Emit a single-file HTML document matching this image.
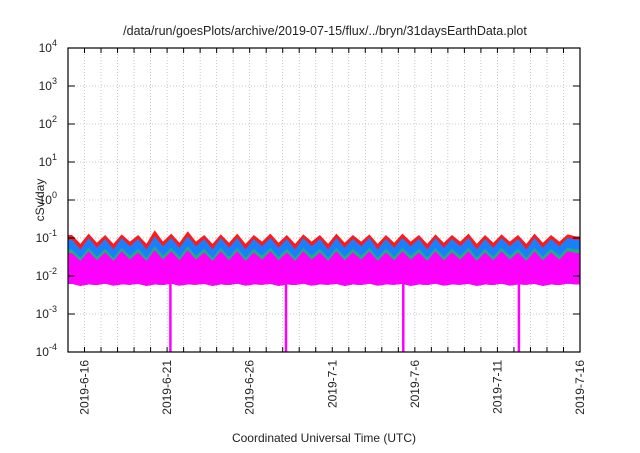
<!DOCTYPE html>
<html><head><meta charset="utf-8"><style>
body{margin:0;background:#fff;font-family:"Liberation Sans",sans-serif}
svg text{font-family:"Liberation Sans",sans-serif}
</style></head><body>
<svg id="c" width="640" height="448" viewBox="0 0 640 448">
<text x="325" y="35" text-anchor="middle" font-size="12.5" fill="#222">/data/run/goesPlots/archive/2019-07-15/flux/../bryn/31daysEarthData.plot</text>
<text transform="translate(44,200) rotate(-90)" text-anchor="middle" font-size="12" fill="#222">cSv/day</text>
<text x="324" y="442" text-anchor="middle" font-size="12" fill="#222">Coordinated Universal Time (UTC)</text>
<g id="grid"></g><g id="marks"></g><g id="axes"></g>
</svg>
<script>
const yTickExps=[-4,-3,-2,-1,0,1,2,3,4];
const xTickLabels=["2019-6-16","2019-6-21","2019-6-26","2019-7-1","2019-7-6","2019-7-11","2019-7-16"];
const xTickDays=[1,6,11,16,21,26,31];
const redTop=[0.12,0.07,0.13,0.075,0.12,0.07,0.125,0.08,0.12,0.07,0.16,0.08,0.13,0.075,0.15,0.08,0.12,0.07,0.125,0.075,0.13,0.07,0.12,0.08,0.13,0.075,0.12,0.07,0.125,0.08,0.12,0.07,0.13,0.075,0.12,0.08,0.125,0.07,0.12,0.075,0.13,0.08,0.12,0.07,0.125,0.075,0.12,0.08,0.13,0.07,0.12,0.075,0.125,0.08,0.12,0.07,0.13,0.075,0.12,0.08,0.125,0.11];
const blueTop=[0.09,0.05,0.1,0.055,0.095,0.05,0.1,0.06,0.095,0.05,0.11,0.06,0.1,0.055,0.11,0.06,0.095,0.05,0.1,0.055,0.1,0.05,0.095,0.06,0.1,0.055,0.095,0.05,0.1,0.06,0.095,0.05,0.1,0.055,0.095,0.06,0.1,0.05,0.095,0.055,0.1,0.06,0.095,0.05,0.1,0.055,0.095,0.06,0.1,0.05,0.095,0.055,0.1,0.06,0.095,0.05,0.1,0.055,0.095,0.06,0.1,0.09];
const greenTop=[0.05,0.03,0.055,0.032,0.052,0.03,0.055,0.034,0.052,0.03,0.06,0.034,0.055,0.032,0.06,0.034,0.052,0.03,0.055,0.032,0.055,0.03,0.052,0.034,0.055,0.032,0.052,0.03,0.055,0.034,0.052,0.03,0.055,0.032,0.052,0.034,0.055,0.03,0.052,0.032,0.055,0.034,0.052,0.03,0.055,0.032,0.052,0.034,0.055,0.03,0.052,0.032,0.055,0.034,0.052,0.03,0.055,0.032,0.052,0.034,0.055,0.05];
const magentaTop=[0.04,0.025,0.045,0.026,0.042,0.025,0.045,0.027,0.042,0.025,0.048,0.027,0.045,0.026,0.048,0.027,0.042,0.025,0.045,0.026,0.045,0.025,0.042,0.027,0.045,0.026,0.042,0.025,0.045,0.027,0.042,0.025,0.045,0.026,0.042,0.027,0.045,0.025,0.042,0.026,0.045,0.027,0.042,0.025,0.045,0.026,0.042,0.027,0.045,0.025,0.042,0.026,0.045,0.027,0.042,0.025,0.045,0.026,0.042,0.027,0.045,0.04];
const magentaLow=[0.0062,0.0055,0.006,0.0058,0.0063,0.0056,0.006,0.0059,0.0062,0.0055,0.006,0.0058,0.0063,0.0056,0.006,0.0059,0.0062,0.0055,0.006,0.0058,0.0063,0.0056,0.006,0.0059,0.0062,0.0055,0.006,0.0058,0.0063,0.0056,0.006,0.0059,0.0062,0.0055,0.006,0.0058,0.0063,0.0056,0.006,0.0059,0.0062,0.0055,0.006,0.0058,0.0063,0.0056,0.006,0.0059,0.0062,0.0055,0.006,0.0058,0.0063,0.0056,0.006,0.0059,0.0062,0.0055,0.006,0.0058,0.0063,0.006];
const dipDays=[6.2,13.2,20.3,27.3];
const L=68,R=580,T=48,B=352,D0=0,D1=31,E0=-4,E1=4;
const xS=d=>L+(d-D0)/(D1-D0)*(R-L);
const yS=v=>B-(Math.log10(v)-E0)/(E1-E0)*(B-T);
const NS="http://www.w3.org/2000/svg";
function mk(t,a,p){const e=document.createElementNS(NS,t);for(const k in a)e.setAttribute(k,a[k]);p.appendChild(e);return e;}
const grid=document.getElementById('grid'),marks=document.getElementById('marks'),axes=document.getElementById('axes');
for(let d=1;d<31;d++){const l=mk('line',{x1:xS(d),x2:xS(d),y1:T,y2:B,stroke:'#bbb','stroke-width':0.8,'stroke-dasharray':'1,2'},grid);
}
yTickExps.forEach(e=>{if(e>E0&&e<E1){const l=mk('line',{x1:L,x2:R,y1:yS(Math.pow(10,e)),y2:yS(Math.pow(10,e)),stroke:'#bbb','stroke-width':0.8,'stroke-dasharray':'1,2'},grid);
}});
const tAt=i=>i*0.5+0.25;
function band(top,low,color,name){let pts=[];const n=top.length;
pts.push(xS(D0)+','+yS(top[0]));
for(let i=0;i<n;i++){pts.push(xS(tAt(i))+','+yS(top[i]));}
pts.push(xS(D1)+','+yS(top[n-1]));pts.push(xS(D1)+','+yS(low[n-1]));
for(let i=n-1;i>=0;i--){pts.push(xS(tAt(i))+','+yS(low[i]));}
pts.push(xS(D0)+','+yS(low[0]));
const p=mk('polygon',{points:pts.join(' '),fill:color},marks);
}
band(redTop,magentaLow,'#ff1a1a','series-red');
band(blueTop,magentaLow,'#1a7fff','series-blue');
band(greenTop,magentaLow,'#20b080','series-green');
band(magentaTop,magentaLow,'#ff00ff','series-magenta');
dipDays.forEach(d=>{const l=mk('line',{x1:xS(d),x2:xS(d),y1:yS(0.01),y2:B,stroke:'#ff00ff','stroke-width':2.5},marks);
});
const f=mk('rect',{x:L,y:T,width:R-L,height:B-T,fill:'none',stroke:'#000','stroke-width':1.2},axes);

for(let d=1;d<31;d++){mk('line',{x1:xS(d),x2:xS(d),y1:T,y2:T+5,stroke:'#000'},axes);
mk('line',{x1:xS(d),x2:xS(d),y1:B,y2:B-5,stroke:'#000'},axes);}
yTickExps.forEach(e=>{const y=yS(Math.pow(10,e));
mk('line',{x1:L,x2:L+7,y1:y,y2:y,stroke:'#000'},axes);
mk('line',{x1:R,x2:R-7,y1:y,y2:y,stroke:'#000'},axes);
const t=mk('text',{x:57,y:y+4,'text-anchor':'end','font-size':12,fill:'#222'},axes);

t.textContent='10';const s=mk('tspan',{dy:-6,'font-size':9},t);s.textContent=String(e);});
xTickLabels.forEach((lab,i)=>{const x=xS(xTickDays[i]);
const t=mk('text',{transform:`translate(${x+4},360) rotate(-90)`,'text-anchor':'end','font-size':12,fill:'#222'},axes);
t.textContent=lab;});
</script>
</body></html>
